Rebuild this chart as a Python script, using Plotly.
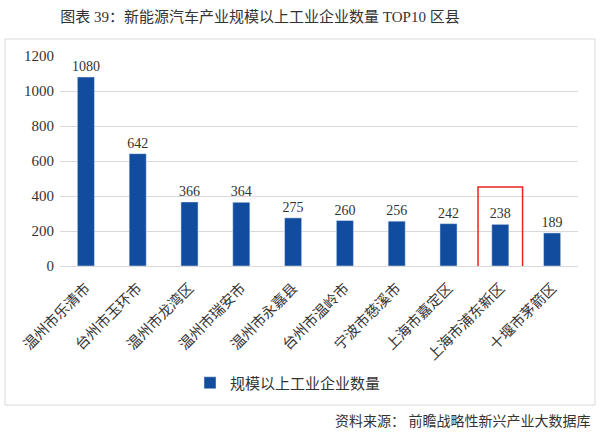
import plotly.graph_objects as go

categories = ["温州市乐清市", "台州市玉环市", "温州市龙湾区", "温州市瑞安市", "温州市永嘉县",
              "台州市温岭市", "宁波市慈溪市", "上海市嘉定区", "上海市浦东新区", "十堰市茅箭区"]
values = [1080, 642, 366, 364, 275, 260, 256, 242, 238, 189]
series_name = "规模以上工业企业数量"
highlight_index = 8
y_ticks = [0, 200, 400, 600, 800, 1000, 1200]

FONT = "Liberation Serif, Noto Sans CJK SC, serif"
BAR = "#124C9E"
TXT = "#333333"

W, H = 600, 435
L, R, T, B = 60, 22, 56, 169
pw, ph = W - L - R, H - T - B

def px_x(p):
    return (p - L) / pw

def px_y(p):
    return (H - B - p) / ph

fig = go.Figure()
fig.add_trace(go.Bar(
    x=categories, y=values, name=series_name,
    marker=dict(color=BAR), width=0.33,
    text=[str(v) for v in values], textposition="outside",
    textfont=dict(family=FONT, size=14, color=TXT),
    constraintext="none", cliponaxis=False,
))

shapes = [
    dict(type="rect", xref="paper", yref="paper",
         x0=px_x(5), x1=px_x(595), y0=px_y(405), y1=px_y(39),
         line=dict(color="#d9d9d9", width=1), fillcolor="rgba(0,0,0,0)", layer="below"),
    dict(type="rect", xref="x", yref="y",
         x0=highlight_index - 0.43, x1=highlight_index + 0.43, y0=-17, y1=452,
         line=dict(color="#e8231f", width=1.5), fillcolor="rgba(0,0,0,0)"),
]

fig.update_layout(
    width=W, height=H,
    margin=dict(l=L, r=R, t=T, b=B, autoexpand=False),
    paper_bgcolor="white", plot_bgcolor="white",
    title=dict(text="图表 39：新能源汽车产业规模以上工业企业数量 TOP10 区县",
               xref="container", yref="container",
               x=260 / W, xanchor="center", y=1 - 17 / H, yanchor="middle",
               font=dict(family=FONT, size=15, color=TXT)),
    showlegend=True,
    legend=dict(orientation="h", xref="container", yref="container",
                x=190 / W, xanchor="left", y=1 - 383 / H, yanchor="middle",
                font=dict(family=FONT, size=15, color=TXT), bgcolor="rgba(0,0,0,0)",
                itemwidth=30),
    bargap=0.67,
    shapes=shapes,
    annotations=[
        dict(text="资料来源： 前瞻战略性新兴产业大数据库", xref="paper", yref="paper",
             x=px_x(593), y=px_y(421), xanchor="right", yanchor="middle", showarrow=False,
             font=dict(family=FONT, size=14, color=TXT)),
    ],
)
fig.update_xaxes(tickangle=-45, tickfont=dict(family=FONT, size=14.5, color=TXT),
                 showline=True, linecolor="#d9d9d9", ticks="", showgrid=False, automargin=False,
                 ticklabelstandoff=7)
fig.update_yaxes(range=[0, 1200], tickvals=y_ticks, tickfont=dict(family=FONT, size=15, color=TXT),
                 showgrid=True, gridcolor="#d9d9d9", zeroline=False, showline=False, ticks="",
                 ticklabelstandoff=5, automargin=False)

fig.write_html("out.html", config={"displayModeBar": False},
               post_script="document.body.style.margin='0';document.body.style.overflow='hidden';")
